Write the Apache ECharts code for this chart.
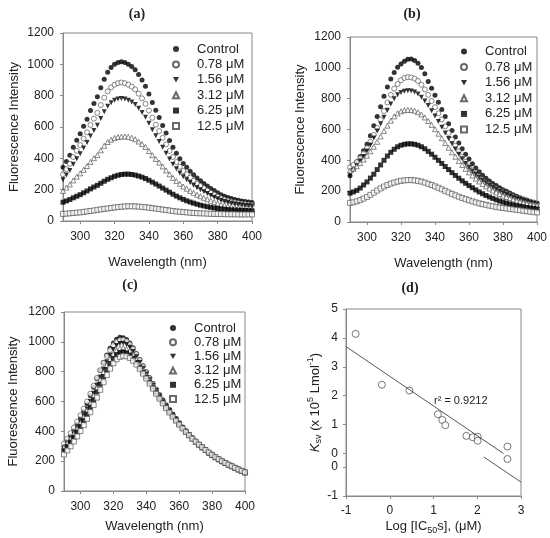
<!DOCTYPE html>
<html>
<head>
<meta charset="UTF-8">
<title>Fluorescence quenching</title>
<script src="https://cdn.jsdelivr.net/npm/echarts@6/dist/echarts.min.js"></script>
<style>
html, body { margin: 0; padding: 0; background: #fff; }
#main { width: 550px; height: 538px; }
</style>
</head>
<body>
<div id="main"></div>
<script>
// wavelengths (nm), one point every 2 nm
var wavelength = [290,292,294,296,298,300,302,304,306,308,310,312,314,316,318,320,322,324,326,328,
  330,332,334,336,338,340,342,344,346,348,350,352,354,356,358,360,362,364,366,368,
  370,372,374,376,378,380,382,384,386,388,390,392,394,396,398,400];
var concLabels = ['Control', '0.78 μM', '1.56 μM', '3.12 μM', '6.25 μM', '12.5 μM'];
var xTicksSpectra = [300, 320, 340, 360, 380, 400];

// panel (a)
var aControl = [343,380,420,470,515,557,605,650,705,750,793,850,905,950,980,1000,1012,1016,1011,1000,986,965,935,900,860,810,757,707,660,610,562,514,470,432,398,367,343,318,295,275,257,240,224,208,194,180,168,158,150,143,137,132,128,124,121,118];
var a078 = [298,331,365,409,448,485,526,566,613,653,690,740,787,827,853,870,880,884,880,870,858,840,813,783,748,705,659,615,574,531,489,447,409,376,346,319,298,277,257,239,224,209,195,181,169,157,146,137,131,124,119,115,111,108,105,103];
var a156 = [264,293,323,362,397,429,466,501,543,578,611,655,697,732,755,770,779,782,778,770,759,743,720,693,662,624,583,544,508,470,433,396,362,333,306,283,264,245,228,213,200,187,175,163,152,142,133,125,119,114,109,105,102,99,97,95];
var a312 = [192,213,233,259,283,304,327,351,377,401,420,451,480,504,519,530,536,539,540,537,531,522,507,491,473,446,420,396,373,348,323,298,275,255,237,220,206,192,180,168,158,148,139,129,120,113,105,100,95,90,86,84,81,79,77,76];
var a625 = [120,128,137,148,158,168,180,192,205,217,228,241,254,266,276,285,292,297,299,299,297,293,287,280,271,260,248,236,223,210,197,184,171,159,148,138,129,121,114,107,101,96,91,87,83,80,77,75,73,71,70,69,68,67,66,65];
var a125 = [45,47,49,51,53,55,58,61,64,67,71,74,77,80,83,86,89,91,93,94,94,93,92,90,88,85,82,79,76,73,70,67,64,61,59,57,55,53,51,50,49,48,47,46,45,45,44,44,43,43,43,42,42,42,42,42];

// panel (b)
var bControl = [300,345,390,425,462,505,560,625,685,748,815,875,927,970,1003,1025,1042,1055,1058,1048,1030,1002,962,912,868,822,776,730,684,638,594,552,512,475,440,408,378,351,326,304,284,266,250,236,222,210,199,188,177,167,158,150,142,135,128,121];
var b078 = [354,370,390,415,445,480,520,565,610,665,720,775,825,865,895,920,935,940,938,930,915,890,860,825,785,745,705,665,620,578,535,495,458,422,390,360,335,312,292,274,258,243,230,217,205,194,184,175,166,158,150,143,137,131,126,121];
var b156 = [307,335,365,395,425,460,500,545,590,635,680,725,765,800,825,840,848,852,850,843,830,810,785,755,722,688,652,615,578,542,507,473,440,410,380,354,330,308,288,270,254,239,225,212,200,189,179,170,161,153,146,139,133,127,122,117];
var b312 = [333,345,362,382,405,430,458,488,520,555,590,625,657,685,705,718,725,727,726,722,712,697,678,655,630,602,573,543,512,482,452,423,396,370,345,322,301,281,263,246,231,217,204,192,181,171,162,154,146,139,133,127,122,117,113,109];
var b625 = [187,195,205,220,240,260,285,310,340,370,400,428,452,472,488,498,504,507,507,504,498,488,475,458,440,420,400,380,360,340,320,302,284,267,251,236,222,208,195,183,172,162,153,144,136,129,122,116,111,106,102,98,94,91,88,85];
var b125 = [124,128,134,142,152,163,176,190,204,218,230,240,249,256,262,267,270,272,272,270,267,262,256,248,240,231,222,212,202,192,182,173,164,156,148,141,134,127,121,116,111,106,102,98,94,91,88,85,82,79,76,73,70,67,64,62];

// panel (c)
var cControl = [300,335,370,408,448,490,535,585,640,695,752,808,862,912,957,993,1018,1030,1028,1015,992,960,922,882,840,800,760,720,682,645,610,577,545,514,484,455,428,402,378,355,334,314,295,277,260,244,229,215,202,190,179,168,157,147,137,127];
var c078 = [318,352,388,425,465,508,552,600,652,705,758,810,860,905,945,978,1000,1012,1014,1004,984,954,918,878,837,797,757,718,680,643,608,575,543,512,483,454,427,401,377,354,333,313,294,276,259,243,228,214,201,189,178,167,156,146,136,126];
var c156 = [282,312,345,380,418,458,502,550,602,655,710,765,818,867,910,948,975,988,990,982,963,935,900,862,822,784,746,709,673,638,604,572,541,511,482,454,426,400,376,353,332,312,293,275,258,242,227,213,200,188,177,166,155,145,135,125];
var c312 = [295,322,352,385,420,458,498,542,590,640,692,745,796,843,884,918,943,957,960,953,937,913,882,848,812,776,740,704,669,635,602,570,539,509,480,452,425,399,375,352,331,311,292,274,257,241,226,212,199,187,176,165,154,144,134,124];
var c625 = [270,298,328,360,395,432,472,515,562,612,664,716,767,814,855,889,914,928,932,926,912,890,862,830,796,762,727,692,658,625,593,562,532,503,475,448,422,397,373,351,330,310,291,273,256,240,225,211,198,186,175,164,153,143,133,123];
var c125 = [245,272,300,332,366,402,441,483,528,576,626,678,729,777,820,856,883,899,906,903,892,873,848,819,787,754,720,686,652,619,587,556,526,498,471,445,420,396,373,351,331,311,293,275,258,242,227,213,200,188,177,166,155,145,135,125];

// panel (d): Ksv vs log IC50 (lower part of the y axis is broken in the original)
var dLogIC50 = [-0.78,-0.18,0.45,1.10,1.20,1.27,1.75,1.90,2.01,2.01,2.69,2.69];
var dKsv = [4.14,2.38,2.18,1.36,1.16,0.98,0.61,0.56,0.58,0.44,0.24,-0.19];
var dFitUpperX = [-1, 2.6];
var dFitUpperY = [3.70, 0.0];
var dFitLowerX = [2.15, 3.0];
var dFitLowerY = [-0.12, -0.99];
var dYTickValues = [5, 4, 3, 2, 1, 0, -0.46, -1.47];
var dYTickLabels = ['5', '4', '3', '2', '1', '0', '0', '-1'];

var FONT = 'Liberation Sans, Arial, sans-serif';
var AXIS_GRAY = '#888';
var TEXT = '#222';

function pairs(xs, ys) {
  return xs.map(function (x, i) { return [x, ys[i]]; });
}

// one marker per concentration, same order as concLabels
var markers = [
  { symbol: 'circle', itemStyle: { color: '#000' } },
  { symbol: 'circle', itemStyle: { color: '#fff', borderColor: '#444', borderWidth: 0.8 } },
  { symbol: 'path://M0,0L10,0L5,9Z', itemStyle: { color: '#000' } },
  { symbol: 'triangle', itemStyle: { color: '#fff', borderColor: '#444', borderWidth: 0.8 } },
  { symbol: 'rect', itemStyle: { color: '#000' } },
  { symbol: 'rect', itemStyle: { color: '#fff', borderColor: '#444', borderWidth: 0.8 } }
];

function spectraSeries(panel, sets) {
  return sets.map(function (ys, k) {
    return {
      name: concLabels[k],
      type: 'scatter',
      xAxisIndex: panel,
      yAxisIndex: panel,
      symbol: markers[k].symbol,
      symbolSize: 5,
      itemStyle: markers[k].itemStyle,
      data: pairs(wavelength, ys),
      silent: true
    };
  });
}

function spectraX(grid, gap) {
  return {
    gridIndex: grid, type: 'value', min: 290, max: 400,
    name: 'Wavelength (nm)', nameLocation: 'middle', nameGap: gap,
    nameTextStyle: { fontSize: 13, fontFamily: FONT, color: TEXT },
    axisLine: { show: true, onZero: false, lineStyle: { color: AXIS_GRAY } },
    axisTick: { show: true, length: 3, customValues: xTicksSpectra, lineStyle: { color: AXIS_GRAY } },
    axisLabel: { customValues: xTicksSpectra, margin: 10, fontSize: 12, fontFamily: FONT, color: TEXT },
    splitLine: { show: false }
  };
}

function spectraY(grid, gap) {
  return {
    gridIndex: grid, type: 'value', min: 0, max: 1200, interval: 200,
    name: 'Fluorescence Intensity', nameLocation: 'middle', nameGap: gap,
    nameTextStyle: { fontSize: 13, fontFamily: FONT, color: TEXT },
    axisLine: { show: true, onZero: false, lineStyle: { color: AXIS_GRAY } },
    axisTick: { show: true, length: 3, lineStyle: { color: AXIS_GRAY } },
    axisLabel: {
      margin: 9, fontSize: 12, fontFamily: FONT, color: TEXT,
      formatter: function (v) { return String(v); }
    },
    splitLine: { show: false }
  };
}

function legendAt(left, top, gap) {
  return {
    data: concLabels, orient: 'vertical', left: left, top: top,
    itemWidth: 6, itemHeight: 6, itemGap: gap, selectedMode: false,
    symbolKeepAspect: true,
    textStyle: { fontSize: 13, fontFamily: FONT, color: TEXT, lineHeight: 13, padding: [0, 0, 0, 13] }
  };
}

var gridStyle = { show: true, borderColor: AXIS_GRAY, borderWidth: 1, backgroundColor: 'transparent' };

var series = []
  .concat(spectraSeries(0, [aControl, a078, a156, a312, a625, a125]))
  .concat(spectraSeries(1, [bControl, b078, b156, b312, b625, b125]))
  .concat(spectraSeries(2, [cControl, c078, c156, c312, c625, c125]));

series.push({
  name: 'fit upper', type: 'line', xAxisIndex: 3, yAxisIndex: 3,
  data: pairs(dFitUpperX, dFitUpperY), showSymbol: false, silent: true,
  lineStyle: { color: '#555', width: 1 }
});
series.push({
  name: 'fit lower', type: 'line', xAxisIndex: 3, yAxisIndex: 3,
  data: pairs(dFitLowerX, dFitLowerY), showSymbol: false, silent: true,
  lineStyle: { color: '#555', width: 1 }
});
series.push({
  name: 'Ksv', type: 'scatter', xAxisIndex: 3, yAxisIndex: 3,
  symbol: 'circle', symbolSize: 7, silent: true,
  itemStyle: { color: '#fff', borderColor: '#555', borderWidth: 1 },
  data: pairs(dLogIC50, dKsv)
});

var titleFont = 'bold 14px Liberation Serif, serif';
function panelTitle(text, x, y) {
  return { type: 'text', x: x, y: y, style: { text: text, font: titleFont, fill: TEXT, textAlign: 'center', textVerticalAlign: 'middle', align: 'center', verticalAlign: 'middle' } };
}

var option = {
  animation: false,
  backgroundColor: '#fff',
  textStyle: { fontFamily: FONT },
  grid: [
    Object.assign({ left: 63, top: 33, width: 189, height: 188 }, gridStyle),
    Object.assign({ left: 350, top: 37, width: 188, height: 185 }, gridStyle),
    Object.assign({ left: 64, top: 312, width: 181, height: 179 }, gridStyle),
    Object.assign({ left: 346, top: 309, width: 175, height: 187 }, gridStyle)
  ],
  xAxis: [
    spectraX(0, 35),
    spectraX(1, 35),
    spectraX(2, 29),
    {
      gridIndex: 3, type: 'value', min: -1, max: 3, interval: 1,
      name: '{n|Log [IC}{sub|50}{n|s], (μM)}', nameLocation: 'middle', nameGap: 22,
      nameTextStyle: {
        fontSize: 13, fontFamily: FONT, color: TEXT,
        rich: {
          n: { fontSize: 13, fontFamily: FONT, color: TEXT, lineHeight: 17 },
          sub: { fontSize: 9, fontFamily: FONT, color: TEXT, lineHeight: 9, verticalAlign: 'bottom' }
        }
      },
      axisLine: { show: true, onZero: false, lineStyle: { color: AXIS_GRAY } },
      axisTick: { show: true, length: 3, lineStyle: { color: AXIS_GRAY } },
      axisLabel: { margin: 9, fontSize: 12, fontFamily: FONT, color: TEXT },
      splitLine: { show: false }
    }
  ],
  yAxis: [
    spectraY(0, 42),
    spectraY(1, 43),
    spectraY(2, 44),
    {
      gridIndex: 3, type: 'value', min: -1.47, max: 5,
      name: '{k|K}{sub|sv}{n| (x 10}{sup|5}{n| Lmol}{sup|-1}{n|)}',
      nameLocation: 'middle', nameGap: 21,
      nameTextStyle: {
        fontSize: 13, fontFamily: FONT, color: TEXT,
        rich: {
          k: { fontSize: 13, fontFamily: FONT, fontStyle: 'italic', color: TEXT, lineHeight: 17 },
          n: { fontSize: 13, fontFamily: FONT, color: TEXT, lineHeight: 17 },
          sub: { fontSize: 9, fontFamily: FONT, color: TEXT, lineHeight: 9, verticalAlign: 'bottom' },
          sup: { fontSize: 9, fontFamily: FONT, color: TEXT, lineHeight: 9, verticalAlign: 'top' }
        }
      },
      axisLine: { show: true, onZero: false, lineStyle: { color: AXIS_GRAY } },
      axisTick: { show: true, length: 3, customValues: dYTickValues, lineStyle: { color: AXIS_GRAY } },
      axisLabel: {
        customValues: dYTickValues, margin: 8, fontSize: 12, fontFamily: FONT, color: TEXT,
        formatter: function (v) {
          var i = dYTickValues.indexOf(v);
          return i >= 0 ? dYTickLabels[i] : '';
        }
      },
      splitLine: { show: false }
    }
  ],
  legend: [
    legendAt(167, 37.5, 2.4),
    legendAt(455, 40, 2.6),
    legendAt(164, 316.5, 1.2)
  ],
  graphic: [
    panelTitle('(a)', 137, 14),
    panelTitle('(b)', 412, 14),
    panelTitle('(c)', 130, 285),
    panelTitle('(d)', 410, 288),
    { type: 'text', x: 434, y: 401, style: { text: 'r² = 0.9212', font: '11px Liberation Sans, Arial, sans-serif', fill: TEXT, textAlign: 'left', textVerticalAlign: 'middle', align: 'left', verticalAlign: 'middle' } }
  ],
  series: series
};

var chart = echarts.init(document.getElementById('main'));
chart.setOption(option);
</script>
</body>
</html>
